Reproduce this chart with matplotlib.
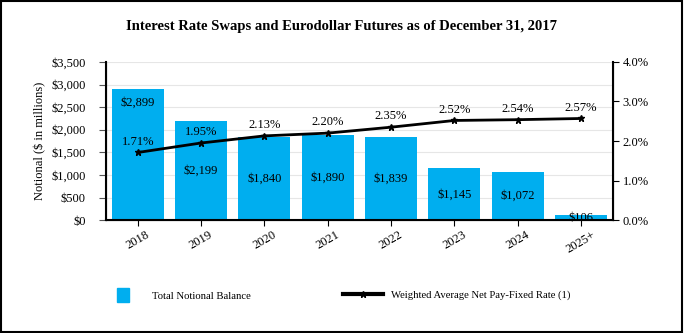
import numpy as np
import matplotlib.pyplot as plt
from matplotlib.lines import Line2D
from matplotlib.patches import Patch, Rectangle

plt.rcParams["font.family"] = ["Liberation Serif", "DejaVu Serif"]

years = ["2018", "2019", "2020", "2021", "2022", "2023", "2024", "2025+"]
notional = [2899, 2199, 1840, 1890, 1839, 1145, 1072, 106]
rates = [1.71, 1.95, 2.13, 2.20, 2.35, 2.52, 2.54, 2.57]

bar_color = "#00AEEF"

fig = plt.figure(figsize=(6.84, 3.33), dpi=100)
ax = fig.add_axes([0.155, 0.339, 0.741, 0.475])
ax2 = ax.twinx()

x = np.arange(len(years))
ax.bar(x, notional, width=0.82, color=bar_color, zorder=2)
ax.set_xlim(-0.5, len(years) - 0.5)
ax.set_ylim(0, 3500)
ax.set_yticks(np.arange(0, 3501, 500))
ax.set_yticklabels([f"${v:,}" for v in range(0, 3501, 500)], fontsize=9)
ax.set_xticks(x)
ax.set_xticklabels(years, rotation=30, fontsize=9)
ax.grid(axis="y", color="#e6e6e6", linewidth=0.8, zorder=0)
ax.set_axisbelow(True)
ax.set_ylabel("Notional ($ in millions)", fontsize=9, labelpad=4)
for s in ["top"]:
    ax.spines[s].set_visible(False)
    ax2.spines[s].set_visible(False)
ax.spines["left"].set_linewidth(1.5)
ax.spines["bottom"].set_linewidth(1.5)
ax2.spines["right"].set_linewidth(1.5)
ax.tick_params(axis="y", length=5, pad=9.5, color="#555555")
ax.tick_params(axis="x", length=4.5, pad=2)

for i, v in enumerate(notional):
    yv = v / 2
    if i == 0:
        yv = v - 300
    ax.text(i, yv, f"${v:,}", ha="center", va="center", fontsize=9, zorder=3)

ax2.plot(x, rates, color="black", linewidth=2, marker="*", markersize=5, zorder=4)
ax2.set_ylim(0, 4)
ax2.set_yticks(np.arange(0, 4.1, 1))
ax2.set_yticklabels([f"{v:.1f}%" for v in np.arange(0, 4.1, 1)], fontsize=9)
ax2.tick_params(axis="y", length=4, pad=3)
for i, r in enumerate(rates):
    ax2.text(i, r + 0.12, f"{r:.2f}%", ha="center", va="bottom", fontsize=9)

fig.suptitle("Interest Rate Swaps and Eurodollar Futures as of December 31, 2017",
             fontsize=10.5, fontweight="bold", y=0.94)

fig.legend([Patch(facecolor=bar_color, edgecolor=bar_color)],
           ["Total Notional Balance"], loc="center left",
           bbox_to_anchor=(117 / 684, 0.113), frameon=False, fontsize=7.7,
           handlelength=1.1, handleheight=1.6, handletextpad=2.2,
           borderpad=0, borderaxespad=0)
fig.legend([Line2D([], [], color="black", linewidth=3, marker="*", markersize=5)],
           ["Weighted Average Net Pay-Fixed Rate (1)"], loc="center left",
           bbox_to_anchor=(343 / 684, 0.113), frameon=False, fontsize=7.7,
           handlelength=3.7, handletextpad=0.8, borderpad=0, borderaxespad=0)

fig.add_artist(Rectangle((0.002, 0.003), 0.995, 0.993, transform=fig.transFigure,
                         fill=False, edgecolor="black", linewidth=1.5))

fig.savefig("out.png", dpi=100)
